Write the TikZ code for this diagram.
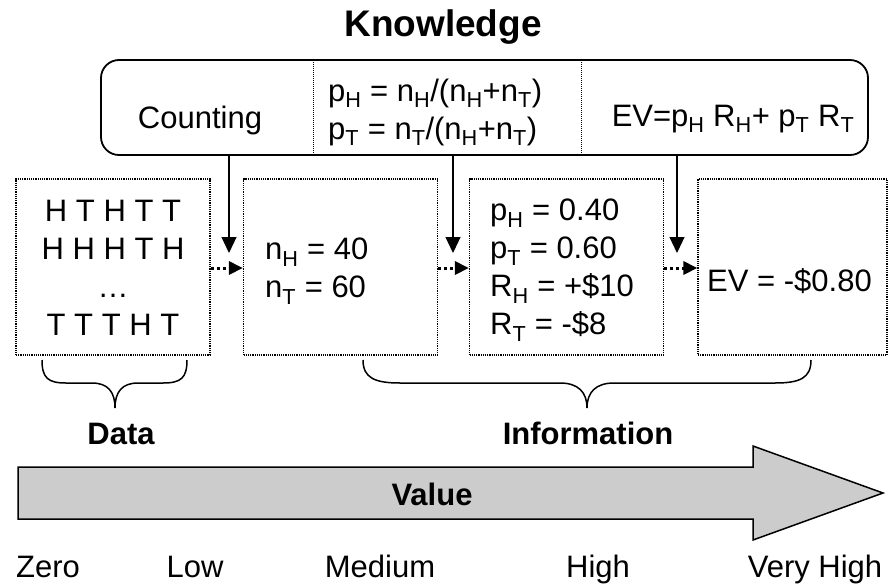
\documentclass[tikz,border=0pt]{standalone}
\usepackage{fontspec}
\setmainfont{Liberation Sans}
\usetikzlibrary{arrows.meta}
\definecolor{arrowgray}{RGB}{204,204,204}
\newcommand{\ix}[1]{\textsubscript{#1}}

\begin{document}
\begin{tikzpicture}[x=1pt,y=-1pt,
		txt/.style={inner sep=0pt, align=left, font=\fontsize{31}{38}\selectfont},
		head/.style={inner sep=0pt, anchor=base, font=\fontsize{31}{38}\selectfont\bfseries},
		kbox/.style={draw, rounded corners=18pt, line width=1.8pt, minimum width=767pt, minimum height=95pt},
		dbox/.style={draw, densely dotted, line width=1.2pt, minimum width=194pt, minimum height=176pt, inner sep=0pt},
		feed/.style={line width=1.2pt, -{Triangle[length=16pt,width=15pt]}},
		flow/.style={line width=3pt, dash pattern=on 3pt off 3pt, -{Triangle[length=14pt,width=13pt]}}]
	\useasboundingbox (0,0) rectangle (889,584);

	\node[head, font=\fontsize{37}{40}\selectfont\bfseries] (knowl) at (443,36) {Knowledge};
	\node[kbox] (kb) at (484.5,107.5) {};
	\draw[densely dotted, line width=1pt] (313,60) -- (313,155);
	\draw[densely dotted, line width=1pt] (581,60) -- (581,155);
	\node[txt, anchor=base] (counting) at (200,128) {Counting};
	\node[txt, anchor=west] (estim) at (328,112) {p\ix{H} = n\ix{H}/(n\ix{H}+n\ix{T})\\p\ix{T} = n\ix{T}/(n\ix{H}+n\ix{T})};
	\node[txt, anchor=base] (expect) at (733,126) {EV=p\ix{H} R\ix{H}+ p\ix{T} R\ix{T}};

	\node[dbox] (flips) at (113,267) {};
	\node[dbox] (counts) at (340.5,267) {};
	\node[dbox] (probs) at (566.5,267) {};
	\node[dbox, minimum width=189pt] (ev) at (792.5,267) {};
	\node[txt, align=center] (flipstxt) at (113,268) {H T H T T\\H H H T H\\…\\T T T H T};
	\node[txt, anchor=west] (countstxt) at (265,271) {n\ix{H} = 40\\n\ix{T} = 60};
	\node[txt, anchor=west] (probstxt) at (490,270) {p\ix{H} = 0.40\\p\ix{T} = 0.60\\R\ix{H} = +\$10\\R\ix{T} = -\$8};
	\node[txt, anchor=base west] (evtxt) at (707,291) {EV = -\$0.80};

	\coordinate (t1) at (229,253);
	\coordinate (t2) at (453,253);
	\coordinate (t3) at (677,253);
	\draw[feed] (t1 |- kb.south) -- (t1);
	\draw[feed] (t2 |- kb.south) -- (t2);
	\draw[feed] (t3 |- kb.south) -- (t3);
	\draw[flow] (flips.east |- 0,268) -- (counts.west |- 0,268);
	\draw[flow] (counts.east |- 0,268) -- (probs.west |- 0,268);
	\draw[flow] (probs.east |- 0,268) -- (ev.west |- 0,268);

	\draw[line width=1.5pt] (42,360) .. controls (42,378) and (48,383) .. (66,383) -- (92,383) .. controls (108,383) and (115,392) .. (115,408) .. controls (115,392) and (122,383) .. (138,383) -- (163,383) .. controls (181,383) and (187,378) .. (187,360);
	\draw[line width=1.5pt] (363,360) .. controls (363,378) and (375,383) .. (400,383) -- (560,383) .. controls (578,383) and (587,392) .. (587,408) .. controls (587,392) and (596,383) .. (614,383) -- (775,383) .. controls (800,383) and (811,378) .. (811,360);
	\node[head] (data) at (121,444) {Data};
	\node[head] (info) at (588,444) {Information};

	\filldraw[fill=arrowgray, line width=1.5pt] (18,467) -- (753,467) -- (753,446) -- (883,493) -- (753,540) -- (753,519) -- (18,519) -- cycle;
	\node[head] (value) at (432,505) {Value};

	\node[txt, anchor=base] (zero) at (48,577) {Zero};
	\node[txt, anchor=base] (low) at (195,577) {Low};
	\node[txt, anchor=base] (medium) at (380,577) {Medium};
	\node[txt, anchor=base] (high) at (598,577) {High};
	\node[txt, anchor=base] (veryhigh) at (815,577) {Very High};
\end{tikzpicture}
\end{document}
